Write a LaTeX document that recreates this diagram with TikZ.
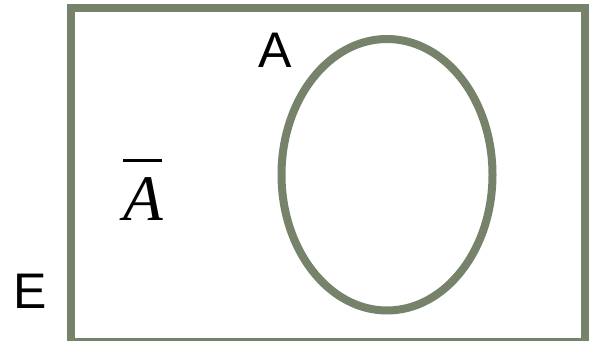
\documentclass[tikz,border=0pt]{standalone}
\usepackage{fontspec}
\setmainfont{Liberation Sans}
\newfontfamily\tms{Liberation Serif}
\definecolor{framegreen}{RGB}{118,130,106}
\tikzset{
  outline/.style={draw=framegreen, line width=8pt},
  sanslabel/.style={font=\fontsize{50}{50}\selectfont, inner sep=0pt, anchor=base},
  seriflabel/.style={font=\tms\itshape\fontsize{65}{65}\selectfont, inner sep=0pt, anchor=base}
}
\begin{document}
\begin{tikzpicture}[x=1pt,y=-1pt]
\useasboundingbox (0,0) rectangle (594,340);
\fill[white] (0,0) rectangle (594,340);
\begin{scope}
  \clip (0,0) rectangle (594,340);
  \draw[outline] (71,8) rectangle (585,342);
\end{scope}
\draw[outline] (387,174.75) ellipse [x radius=105.5, y radius=135.75];
\node[sanslabel] (E) at (30,308) {E};
\node[sanslabel] (A) at (275.5,67) {A};
\node[seriflabel] (Abar) at (143.5,220) {A};
\draw[line width=3pt] (123,160.5) -- (162,160.5);
\end{tikzpicture}
\end{document}
